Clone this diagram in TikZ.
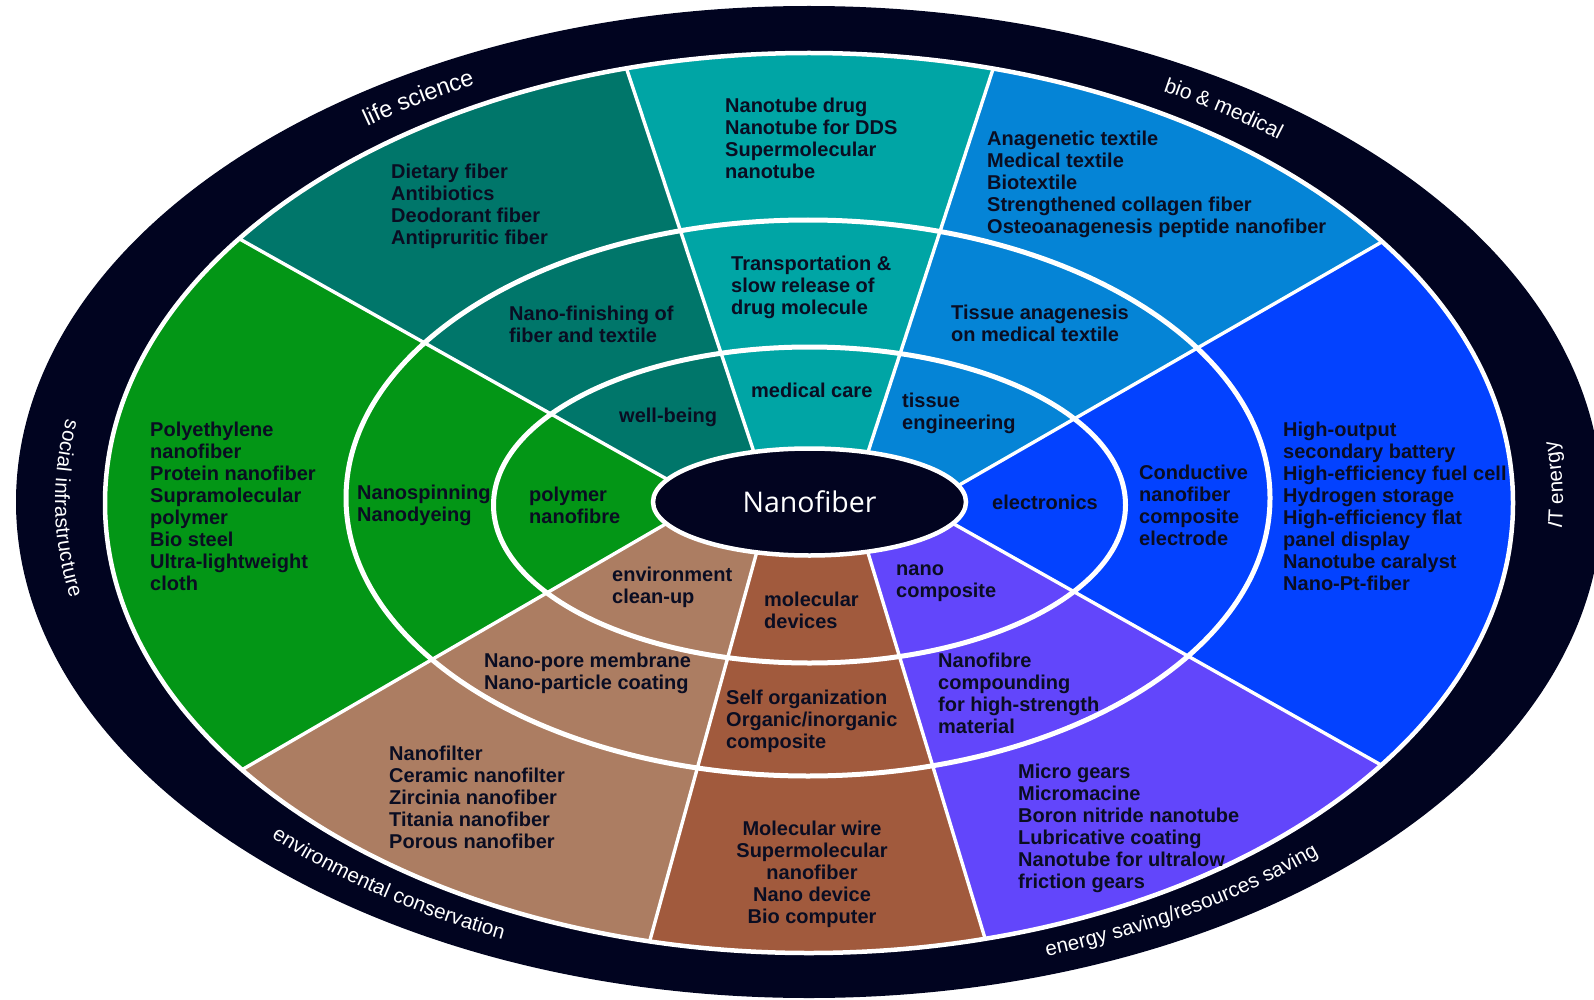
\documentclass[tikz,border=0pt]{standalone}
\usepackage{fontspec}
\setmainfont{Liberation Sans}
\newfontfamily\hubfamily{Open Sans}
\usetikzlibrary{calc,decorations.text,shapes.geometric}

\definecolor{bandnavy}{HTML}{010420}
\definecolor{hubnavy}{HTML}{020420}
\definecolor{inkdark}{HTML}{0A0D22}
\definecolor{cgreen}{HTML}{039616}
\definecolor{cdteal}{HTML}{00766A}
\definecolor{cteal}{HTML}{00A5A5}
\definecolor{clblue}{HTML}{0584D6}
\definecolor{cblue}{HTML}{0342FF}
\definecolor{cpurple}{HTML}{6246FB}
\definecolor{cbrown}{HTML}{A15A3D}
\definecolor{clbrown}{HTML}{AC7D62}

\newcommand\secfont{\fontsize{20}{21.9}\selectfont\bfseries}
\newcommand\bandA{\fontsize{20.6}{20.6}\selectfont\color{white}}
\newcommand\bandB{\fontsize{21}{21}\selectfont\color{white}}
\newcommand\bandC{\fontsize{23.5}{23.5}\selectfont\color{white}}
\newcommand\tstr{\rule{0pt}{14.5pt}}

\begin{document}
\begin{tikzpicture}[x=1pt,y=1pt,
  secbox/.style={font=\secfont, text=inkdark, align=left, anchor=north west, inner sep=0pt},
  secboxc/.style={secbox, align=center, anchor=north},
  divider/.style={white, line width=3.4pt},
  ringline/.style={white, line width=5pt},
  bandtext/.style={decorate, decoration={text along path, text align=center, raise=-5.5pt, text={#1}}},
]
\useasboundingbox (0,0) rectangle (1594,-1000);
\clip (0,0) rectangle (1594,-1000);
\fill[white] (0,0) rectangle (1594,-1000);

% centre of all rings and the divider end points
\coordinate (C) at (809,-502);
\coordinate (P1) at (662.6,-476.7);  \coordinate (Q1) at (244.5,-241.7);
\coordinate (P2) at (752.1,-446.7);  \coordinate (Q2) at (628.1,-73.3);
\coordinate (P3) at (869.2,-448.3);  \coordinate (Q3) at (991.4,-74);
\coordinate (P4) at (962.2,-483.3);  \coordinate (Q4) at (1379.4,-243.3);
\coordinate (P5) at (958.7,-526.7);  \coordinate (Q5) at (1381.1,-765);
\coordinate (P6) at (869.2,-556.7);  \coordinate (Q6) at (984.5,-936.7);
\coordinate (P7) at (755.5,-556.7);  \coordinate (Q7) at (650.5,-938.3);
\coordinate (P8) at (660.9,-526.7);  \coordinate (Q8) at (244.5,-768.3);

% outer navy band
\fill[bandnavy] (C) ellipse [x radius=793pt, y radius=496pt];

% field names along the band
\path[bandtext={|\bandC|life science}]
  (C) ++(136:748.5pt and 473pt) arc[start angle=136, end angle=108, x radius=748.5pt, y radius=473pt];
\path[bandtext={|\bandB|bio {\&} medical}]
  (C) ++(70:748.5pt and 473pt) arc[start angle=70, end angle=41.5, x radius=748.5pt, y radius=473pt];
\path[bandtext={|\bandA|{\itshape I}T energy}]
  (C) ++(-10:748.5pt and 473pt) arc[start angle=-10, end angle=14, x radius=748.5pt, y radius=473pt];
\path[bandtext={|\bandA|energy saving/resources saving}]
  (C) ++(-79:748.5pt and 473pt) arc[start angle=-79, end angle=-38.5, x radius=748.5pt, y radius=473pt];
\path[bandtext={|\bandA|environmental conservation}]
  (C) ++(216:748.5pt and 473pt) arc[start angle=216, end angle=253, x radius=748.5pt, y radius=473pt];
\path[bandtext={|\bandA|social infrastructure}]
  (C) ++(162.5:748.5pt and 473pt) arc[start angle=162.5, end angle=199, x radius=748.5pt, y radius=473pt];

% coloured sectors and their white dividers
\begin{scope}
  \clip (809,-503) ellipse [x radius=704pt, y radius=450pt];
  \fill[cteal]   (C) -- (P2) -- ($(P2)!1.6!(Q2)$) -- ($(P3)!1.6!(Q3)$) -- (P3) -- cycle;
  \fill[clblue]  (C) -- (P3) -- ($(P3)!1.6!(Q3)$) -- ($(P4)!1.6!(Q4)$) -- (P4) -- cycle;
  \fill[cblue]   (C) -- (P4) -- ($(P4)!1.6!(Q4)$) -- ($(P5)!1.6!(Q5)$) -- (P5) -- cycle;
  \fill[cpurple] (C) -- (P5) -- ($(P5)!1.6!(Q5)$) -- ($(P6)!1.6!(Q6)$) -- (P6) -- cycle;
  \fill[cbrown]  (C) -- (P6) -- ($(P6)!1.6!(Q6)$) -- ($(P7)!1.6!(Q7)$) -- (P7) -- cycle;
  \fill[clbrown] (C) -- (P7) -- ($(P7)!1.6!(Q7)$) -- ($(P8)!1.6!(Q8)$) -- (P8) -- cycle;
  \fill[cgreen]  (C) -- (P8) -- ($(P8)!1.6!(Q8)$) -- ($(P1)!1.6!(Q1)$) -- (P1) -- cycle;
  \fill[cdteal]  (C) -- (P1) -- ($(P1)!1.6!(Q1)$) -- ($(P2)!1.6!(Q2)$) -- (P2) -- cycle;
  \foreach \k in {1,...,8}
    \draw[divider] ($(P\k)!-0.1!(Q\k)$) -- ($(P\k)!1.1!(Q\k)$);
\end{scope}

% ring outlines
\draw[ringline] (809.5,-505) ellipse [x radius=316pt, y radius=158pt];
\draw[ringline] (808,-498) ellipse [x radius=462pt, y radius=278pt];
\draw[white, line width=4.5pt] (809,-503) ellipse [x radius=704pt, y radius=450pt];

% hub
\node (hub) [ellipse, draw=white, line width=4.5pt, fill=hubnavy, inner sep=0pt,
  minimum width=313pt, minimum height=107pt,
  font=\hubfamily\fontsize{28.5}{30}\selectfont, text=white] at (809.5,-502) {Nanofiber};

% inner ring
\node (wellbeing) [secbox] at (619,-408) {\tstr well-being};
\node (medcare)   [secbox] at (751,-383) {\tstr medical care};
\node (tissue)    [secbox] at (902,-393) {\tstr tissue\\engineering};
\node (electro)   [secbox] at (992,-495) {\tstr electronics};
\node (nanocomp)  [secbox] at (896,-561) {\tstr nano\\composite};
\node (moldev)    [secbox] at (764,-592) {\tstr molecular\\devices};
\node (envclean)  [secbox] at (612,-567) {\tstr environment\\clean-up};
\node (polymer)   [secbox] at (529,-487) {\tstr polymer\\nanofibre};

% middle ring
\node (finish)    [secbox] at (509,-306) {\tstr Nano-finishing of\\fiber and textile};
\node (transport) [secbox] at (731,-256) {\tstr Transportation \&\\slow release of\\drug molecule};
\node (anagen)    [secbox] at (951,-305) {\tstr Tissue anagenesis\\on medical textile};
\node (conduct)   [secbox] at (1139,-465) {\tstr Conductive\\nanofiber\\composite\\electrode};
\node (compound)  [secbox] at (938,-653) {\tstr Nanofibre\\compounding\\for high-strength\\material};
\node (selforg)   [secbox] at (726,-690) {\tstr Self organization\\Organic/inorganic\\composite};
\node (pore)      [secbox] at (484,-653) {\tstr Nano-pore membrane\\Nano-particle coating};
\node (spinning)  [secbox] at (357,-485) {\tstr Nanospinning\\Nanodyeing};

% outer ring
\node (dietary)   [secbox] at (391,-164) {\tstr Dietary fiber\\Antibiotics\\Deodorant fiber\\Antipruritic fiber};
\node (tubedrug)  [secbox] at (725,-98) {\tstr Nanotube drug\\Nanotube for DDS\\Supermolecular\\nanotube};
\node (textiles)  [secbox] at (987,-131) {\tstr Anagenetic textile\\Medical textile\\Biotextile\\Strengthened collagen fiber\\Osteoanagenesis peptide nanofiber};
\node (energy)    [secbox] at (1283,-422) {\tstr High-output\\secondary battery\\High-efficiency fuel cell\\Hydrogen storage\\High-efficiency flat\\panel display\\Nanotube caralyst\\Nano-Pt-fiber};
\node (gears)     [secbox] at (1018,-764) {\tstr Micro gears\\Micromacine\\Boron nitride nanotube\\Lubricative coating\\Nanotube for ultralow\\friction gears};
\node (molwire)   [secboxc] at (812,-821) {\tstr Molecular wire\\Supermolecular\\nanofiber\\Nano device\\Bio computer};
\node (filters)   [secbox] at (389,-746) {\tstr Nanofilter\\Ceramic nanofilter\\Zircinia nanofiber\\Titania nanofiber\\Porous nanofiber};
\node (polyeth)   [secbox] at (150,-422) {\tstr Polyethylene\\nanofiber\\Protein nanofiber\\Supramolecular\\polymer\\Bio steel\\Ultra-lightweight\\cloth};
\end{tikzpicture}
\end{document}
